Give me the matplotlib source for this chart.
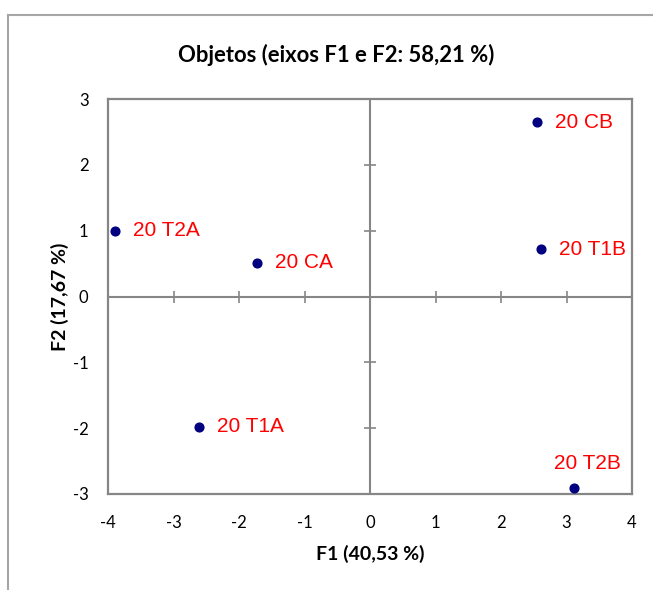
import matplotlib
matplotlib.use("Agg")
import matplotlib.pyplot as plt
from matplotlib.lines import Line2D

labels = ["20 CA", "20 CB", "20 T1A", "20 T1B", "20 T2A", "20 T2B"]
f1 = [-1.73, 2.55, -2.61, 2.61, -3.89, 3.11]
f2 = [0.51, 2.65, -1.98, 0.72, 1.00, -2.91]
xticks = [-4, -3, -2, -1, 0, 1, 2, 3, 4]
yticks = [-3, -2, -1, 0, 1, 2, 3]

title = "Objetos (eixos F1 e F2: 58,21 %)"
xlabel = "F1 (40,53 %)"
ylabel = "F2 (17,67 %)"

tick_font = ["Lato", "DejaVu Sans"]
lab_font = ["Liberation Sans", "DejaVu Sans"]
gray = "#868686"

fig = plt.figure(figsize=(6.53, 5.90), dpi=100)
# outer frame (top & left visible)
fig.add_artist(Line2D([8/653, 8/653], [0, 1 - 15/590], color="#a6a6a6", lw=1.5))
fig.add_artist(Line2D([8/653, 1], [1 - 15/590, 1 - 15/590], color="#a6a6a6", lw=1.5))

ax = fig.add_axes([108/653, 96/590, 524/653, 395/590])
ax.set_xlim(-4, 4)
ax.set_ylim(-3, 3)
for s in ax.spines.values():
    s.set_color(gray)
    s.set_linewidth(1.6)
ax.set_xticks(xticks)
ax.set_yticks(yticks)
ax.set_xticklabels([str(t) for t in xticks], family=tick_font, fontsize=12)
ax.set_yticklabels([str(t) for t in yticks], family=tick_font, fontsize=12)
ax.tick_params(axis="x", length=0, pad=15)
ax.tick_params(axis="y", length=0, pad=14)

# center axes with cross ticks
ax.axhline(0, color=gray, lw=1.5, zorder=1)
ax.axvline(0, color=gray, lw=1.5, zorder=1)
ax.plot(xticks, [0]*len(xticks), linestyle="none", marker="|", markersize=8,
        markeredgewidth=1.2, color=gray, zorder=1, clip_on=False)
ax.plot([0]*len(yticks), yticks, linestyle="none", marker="_", markersize=8,
        markeredgewidth=1.2, color=gray, zorder=1, clip_on=False)

ax.plot(f1, f2, linestyle="none", marker="o", markersize=6.3, color="#000080", zorder=3,
        clip_on=False)
for lab, x, y in zip(labels, f1, f2):
    if lab == "20 T2B":
        ax.annotate(lab, (x, y), xytext=(10, 11), textcoords="offset points",
                    ha="center", va="bottom", color="red", fontsize=15, family=lab_font)
    else:
        ax.annotate(lab, (x, y), xytext=(13, 0), textcoords="offset points",
                    ha="left", va="center", color="red", fontsize=15, family=lab_font)

ax.set_title(title, fontsize=15.8, fontweight="bold", family=tick_font, pad=27, x=0.435)
ax.set_xlabel(xlabel, fontsize=14, fontweight="bold", family=tick_font, labelpad=10)
ax.set_ylabel(ylabel, fontsize=14, fontweight="bold", family=tick_font, labelpad=3)

fig.savefig("out.png", dpi=100)
